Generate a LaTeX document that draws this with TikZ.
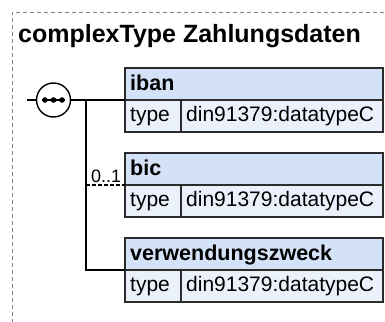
\documentclass[tikz,border=0pt]{standalone}
\usepackage{fontspec}
\setmainfont{Liberation Sans}
\definecolor{hdrblue}{HTML}{D4E2F7}
\definecolor{rowblue}{HTML}{EBF1FB}
\definecolor{frame}{HTML}{2B2B2B}
\begin{document}
\begin{tikzpicture}[x=1pt,y=-1pt,
  conn/.style={black, line width=1.4pt},
  boxbase/.style={draw=frame, line width=1.4pt, outer sep=0pt, inner sep=0pt, anchor=north west, minimum height=32pt},
  hdr/.style={boxbase, fill=hdrblue, minimum width=258pt},
  keycell/.style={boxbase, fill=rowblue, minimum width=56pt},
  valcell/.style={boxbase, fill=rowblue, minimum width=202pt},
  txt/.style={anchor=base west, inner sep=0pt, font=\fontsize{21}{24}\selectfont},
  htxt/.style={txt, font=\bfseries\fontsize{21.5}{24}\selectfont},
]
\useasboundingbox (0,0) rectangle (385,321);
\draw[gray, line width=0.8pt, dash pattern=on 4pt off 3pt] (12,330) -- (12,12) -- (395,12);
\node[anchor=base west, inner sep=0pt, font=\bfseries\fontsize{25}{28}\selectfont] (title) at (18,42) {complexType Zahlungsdaten};

% iban
\node[hdr] (ibanH) at (125,68) {};
\node[keycell] (ibanK) at (125,100) {};
\node[valcell] (ibanV) at (181,100) {};
\node[htxt] (ibanT) at (130,90) {iban};
\node[txt] (ibanKT) at (130,121) {type};
\node[txt] (ibanVT) at (186,121) {din91379:datatypeC};

% bic
\node[hdr] (bicH) at (125,153) {};
\node[keycell] (bicK) at (125,185) {};
\node[valcell] (bicV) at (181,185) {};
\node[htxt] (bicT) at (130,175) {bic};
\node[txt] (bicKT) at (130,206) {type};
\node[txt] (bicVT) at (186,206) {din91379:datatypeC};

% verwendungszweck
\node[hdr] (verwH) at (125,238) {};
\node[keycell] (verwK) at (125,270) {};
\node[valcell] (verwV) at (181,270) {};
\node[htxt] (verwT) at (130,260) {verwendungszweck};
\node[txt] (verwKT) at (130,291) {type};
\node[txt] (verwVT) at (186,291) {din91379:datatypeC};

% sequence compositor
\node[circle, draw=black, fill=white, line width=1.4pt, minimum size=34pt, inner sep=0pt, outer sep=0pt] (seq) at (53.5,100) {};
\draw[black, line width=1.4pt] ([xshift=-11.5pt]seq.center) -- ([xshift=11.5pt]seq.center);
\fill[black] ([xshift=-8.5pt]seq.center) circle (2.8pt);
\fill[black] (seq.center) circle (2.8pt);
\fill[black] ([xshift=8.5pt]seq.center) circle (2.8pt);

\coordinate (in) at (27,100);
\coordinate (fork) at (86,100);
\draw[conn] (in) -- (seq.west);
\draw[conn] (seq.east) -- (ibanH.south west);
\draw[conn] (fork) -- (fork |- verwH.south west) -- (verwH.south west);
\draw[conn, dash pattern=on 4pt off 2pt] (fork |- bicH.south west) -- (bicH.south west);
\node[anchor=base west, inner sep=0pt, font=\fontsize{18}{20}\selectfont] (occ) at (91,182) {0..1};
\end{tikzpicture}
\end{document}
